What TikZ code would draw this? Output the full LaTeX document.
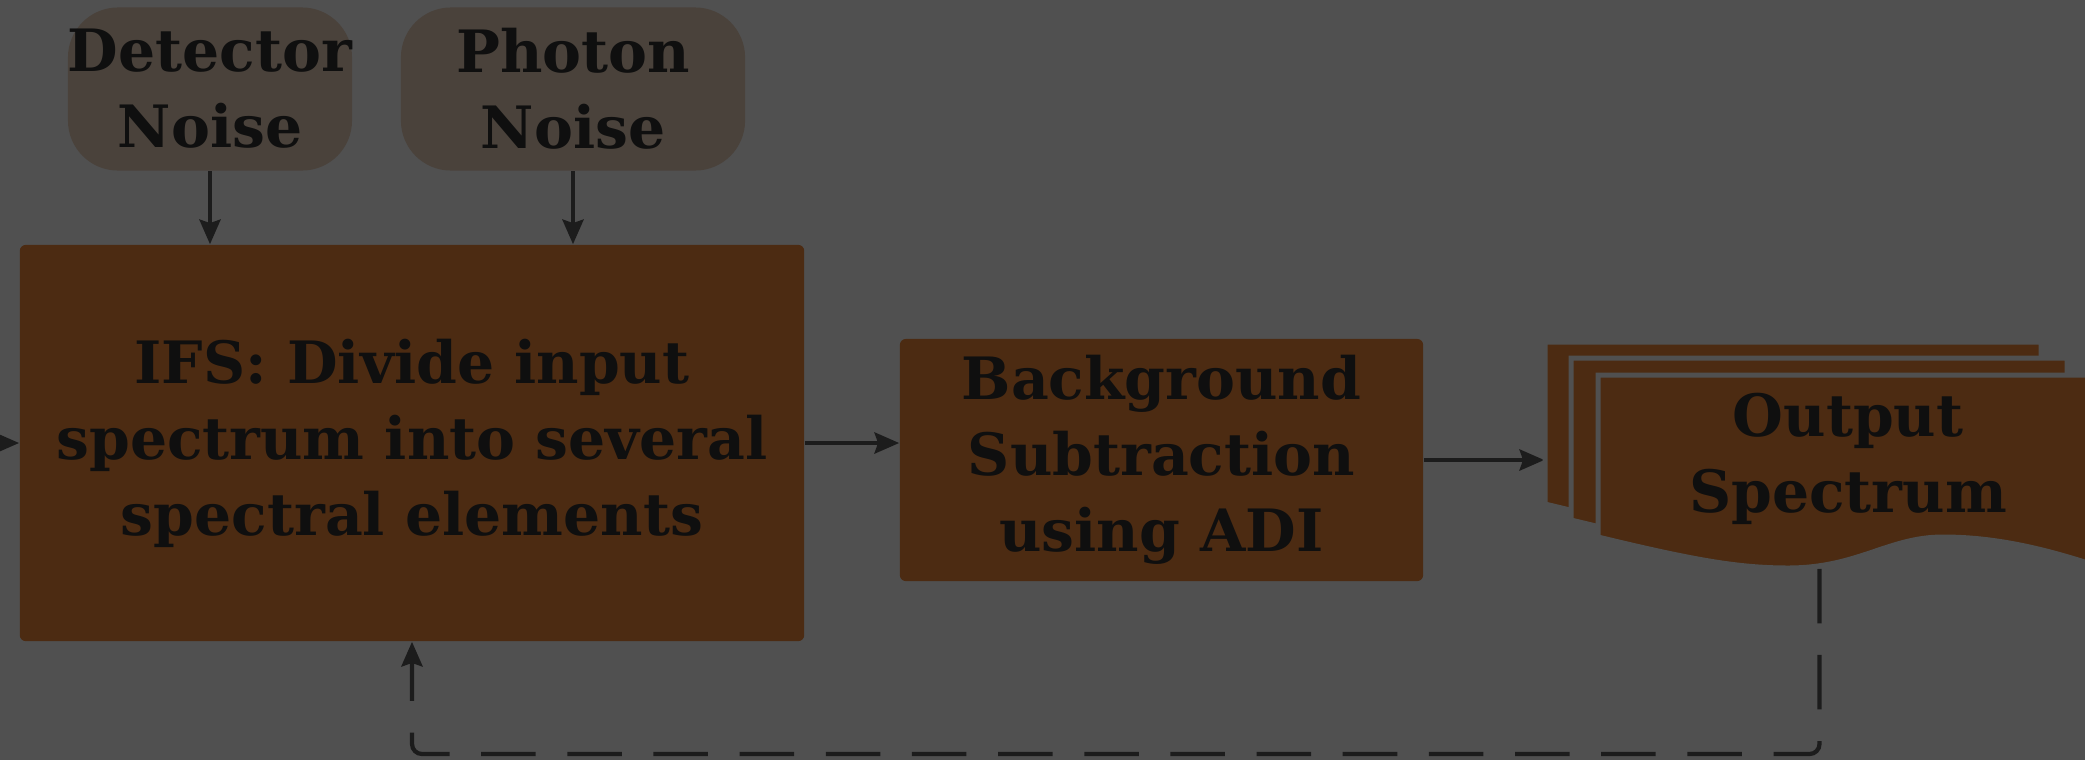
\documentclass[tikz,border=0pt]{standalone}
\usepackage{fontspec}
\setmainfont{DejaVu Serif}
\usetikzlibrary{positioning,arrows.meta,calc}
\definecolor{canvas}{HTML}{505050}
\definecolor{block}{HTML}{4C2B12}
\definecolor{noise}{HTML}{4A423B}
\definecolor{ink}{HTML}{0F0F0F}
\definecolor{wire}{HTML}{1C1C1C}

\begin{document}
\begin{tikzpicture}[x=0.01cm,y=-0.01cm,
  every node/.style={text=ink,font=\fontsize{16.6}{21.6}\selectfont\bfseries,align=center,inner sep=0pt},
  src/.style={fill=noise,rounded corners=0.5cm,minimum height=1.63cm},
  stage/.style={fill=block,rounded corners=0.06cm},
  flow/.style={wire,line width=1.1pt,-{Stealth[length=7pt,width=6pt,inset=1pt]}},
  loopback/.style={wire,line width=1.2pt,dash pattern=on 15.5pt off 9pt,rounded corners=0.1cm,-{Stealth[length=7pt,width=6pt,inset=1pt]}},
  sheet/.style={fill=block,draw=canvas,line width=0.05cm}]
\useasboundingbox (0,0) rectangle (2085,760);
\fill[canvas] (0,0) rectangle (2085,760);
\clip (0,0) rectangle (2085,760);
\node[src,minimum width=2.83cm] (det) at (210,89){Detector\\Noise};
\node[src,minimum width=3.44cm] (pho) at (573,89){Photon\\Noise};
\node[stage,minimum width=7.84cm,minimum height=3.96cm] (ifs) at (412,443){IFS: Divide input\\spectrum into several\\spectral elements};
\node[stage,minimum width=5.23cm,minimum height=2.42cm] (bg) at (1161.5,460){Background\\Subtraction\\using ADI};
\node[minimum width=5.49cm,minimum height=2.26cm] (docs) at (1819.5,455){};
\coordinate (src) at (-40,443);
\coordinate (base) at (0,754);
\draw[flow] (det.south) -- (det.south |- ifs.north);
\draw[flow] (pho.south) -- (pho.south |- ifs.north);
\draw[flow] (src) -- (ifs.west);
\draw[flow] (ifs.east) -- (ifs.east -| bg.west);
\draw[flow] (bg.east) -- (bg.east -| docs.west);
\draw[loopback] (docs.south) |- (ifs.south |- base) -- (ifs.south);
% stacked output sheets
\foreach \dx/\dy in {1545/342,1571/358,1598/375}
  \draw[sheet,shift={(\dx,\dy)}] (0,0) -- (496,0) -- (496,190) .. controls (450,175) and (400,162) .. (345,162) .. controls (290,162) and (260,193) .. (190,193) .. controls (140,193) and (95,185) .. (0,162) -- cycle;
\node (outlbl) at (1848,459){Output\\Spectrum};
\end{tikzpicture}
\end{document}
